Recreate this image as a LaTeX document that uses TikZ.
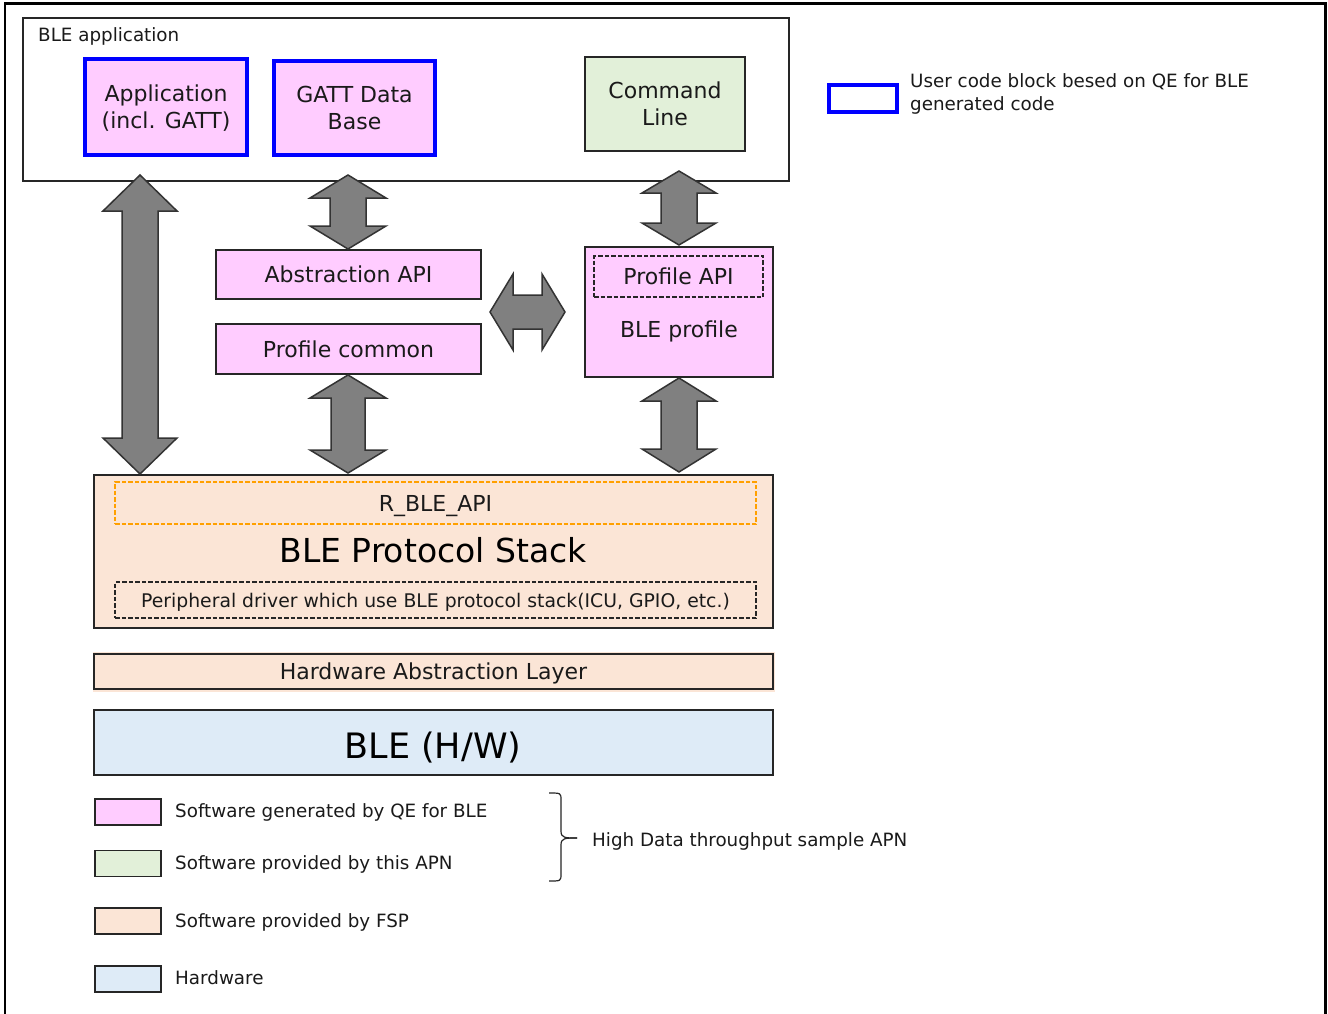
\documentclass[tikz,border=0pt]{standalone}
\usepackage{fontspec}
\setmainfont{DejaVu Sans}
\definecolor{pinkc}{HTML}{FFCCFF}
\definecolor{greenc}{HTML}{E2F0D9}
\definecolor{peachc}{HTML}{FBE5D6}
\definecolor{bluec}{HTML}{DEEBF7}
\definecolor{arrowc}{HTML}{808080}
\definecolor{txt}{HTML}{1A1A1A}
\definecolor{orangec}{HTML}{FFA000}
\newcommand\vdarr[6]{% cx, ytop, ybot, head half width, shaft half width, head length
  \filldraw[blockarrow] (#1,#2) -- ({#1+#4},{#2+#6}) -- ({#1+#5},{#2+#6}) -- ({#1+#5},{#3-#6}) -- ({#1+#4},{#3-#6}) -- (#1,#3) -- ({#1-#4},{#3-#6}) -- ({#1-#5},{#3-#6}) -- ({#1-#5},{#2+#6}) -- ({#1-#4},{#2+#6}) -- cycle;}
\newcommand\hdarr[6]{% cy, xleft, xright, head half width, shaft half width, head length
  \filldraw[blockarrow] (#2,#1) -- ({#2+#6},{#1-#4}) -- ({#2+#6},{#1-#5}) -- ({#3-#6},{#1-#5}) -- ({#3-#6},{#1-#4}) -- (#3,#1) -- ({#3-#6},{#1+#4}) -- ({#3-#6},{#1+#5}) -- ({#2+#6},{#1+#5}) -- ({#2+#6},{#1+#4}) -- cycle;}
\tikzset{
  box/.style={draw=black!85, line width=1.5pt, inner sep=0pt, align=center, text depth=0pt,
    font=\fontsize{22}{27}\selectfont, text=txt},
  userbox/.style={box, draw=blue, line width=3.5pt, fill=pinkc},
  blockarrow/.style={fill=arrowc, draw=black!80, line width=1.5pt, line join=miter},
  legtext/.style={anchor=west, inner sep=0pt, align=left, text depth=0pt, font=\fontsize{18.3}{23}\selectfont, text=txt},
  legbox/.style={draw=black!85, line width=1.5pt, minimum width=66pt, minimum height=26pt, inner sep=0pt},
  dashbox/.style={draw=black!85, dash pattern=on 4.5pt off 2pt, line width=1.2pt, inner sep=0pt, align=center, text depth=0pt, text=txt},
  plainlbl/.style={inner sep=0pt, text depth=0pt},
}
\begin{document}
\begin{tikzpicture}[x=1pt,y=-1pt]
\useasboundingbox (0,0) rectangle (1328,1014);
\fill[white] (0,0) rectangle (1328,1014);
\draw[line width=2.5pt] (5,1014) -- (5,3.5) -- (1325.5,3.5) -- (1325.5,1014);

% BLE application frame
\node[box, fill=white, minimum width=766pt, minimum height=163pt] (bleapp) at (406,99.5) {};
\node[legtext] (bleapplbl) at (38,35) {BLE application};
\node[userbox, minimum width=162pt, minimum height=96pt] (app) at (166,107) {Application\\(incl. GATT)};
\node[userbox, minimum width=161pt, minimum height=94pt] (gatt) at (354.5,108) {GATT Data\\Base};
\node[box, fill=greenc, minimum width=160pt, minimum height=94pt] (cmd) at (665,104) {Command\\Line};

% middle boxes
\node[box, fill=pinkc, minimum width=265pt, minimum height=49pt] (abs) at (348.5,274.5) {Abstraction API};
\node[box, fill=pinkc, minimum width=265pt, minimum height=50pt] (pcom) at (348.5,349) {Profile common};
\node[box, fill=pinkc, minimum width=188pt, minimum height=130pt] (prof) at (679,312) {};
\node[dashbox, minimum width=169pt, minimum height=41pt, font=\fontsize{22}{27}\selectfont] (profapi) at (678.5,276.5) {Profile API};
\node[plainlbl, text=txt, font=\fontsize{22}{27}\selectfont] (proflbl) at (679,329) {BLE profile};

% protocol stack
\node[box, fill=peachc, minimum width=679pt, minimum height=153pt] (stack) at (433.5,551.5) {};
\node[dashbox, draw=orangec, minimum width=641pt, minimum height=42pt, font=\fontsize{22}{27}\selectfont] (rble) at (435.5,503) {R\_BLE\_API};
\node[plainlbl, text=black, font=\fontsize{33}{38}\selectfont] (stacklbl) at (433,550) {BLE Protocol Stack};
\node[dashbox, minimum width=641pt, minimum height=36pt, font=\fontsize{18.8}{23}\selectfont] (periph) at (435.5,600) {Peripheral driver which use BLE protocol stack(ICU, GPIO, etc.)};

% HAL and HW
\fill[peachc] (92.5,651.5) rectangle (774.5,692);
\node[box, fill=peachc, minimum width=679pt, minimum height=35pt] (hal) at (433.5,671.5) {Hardware Abstraction Layer};
\node[box, fill=bluec, minimum width=679pt, minimum height=65pt] (hw) at (433.5,742.5) {};
\node[plainlbl, text=black, font=\fontsize{35}{40}\selectfont] (hwlbl) at (433,745) {BLE (H/W)};

% block arrows
\vdarr{140}{175}{474}{37}{18}{36}
\vdarr{348}{175}{249}{38}{18}{23}
\vdarr{348}{375}{473}{38}{17}{23}
\vdarr{679}{171}{245}{37}{18}{22}
\vdarr{679}{378}{472}{37}{18}{23}
\hdarr{312}{490}{565}{38}{17}{23}

% legend top right
\node[box, draw=blue, line width=3.5pt, fill=white, minimum width=68pt, minimum height=27pt] (legblue) at (863,98.5) {};
\node[legtext] (legbluetxt) at (910,92.5) {User code block besed on QE for BLE\\generated code};

% legend bottom
\node[legbox, fill=pinkc] (lpink) at (128,812) {};
\node[legbox, fill=greenc] (lgreen) at (128,863.5) {};
\node[legbox, fill=peachc] (lpeach) at (128,921) {};
\node[legbox, fill=bluec] (lblue) at (128,979) {};
\node[legtext] (tpink) at (175,811) {Software generated by QE for BLE};
\node[legtext] (tgreen) at (175,863) {Software provided by this APN};
\node[legtext] (tpeach) at (175,921) {Software provided by FSP};
\node[legtext] (tblue) at (175,978) {Hardware};
\draw[line width=1.2pt, black!85] (549,793) .. controls (561,793) .. (561,800) -- (561,831) .. controls (561,838) and (565,838) .. (577,838);
\draw[line width=1.2pt, black!85] (549,881) .. controls (561,881) .. (561,874) -- (561,845) .. controls (561,838) and (565,838) .. (577,838);
\node[legtext] (tbrace) at (592,840) {High Data throughput sample APN};
\end{tikzpicture}
\end{document}
